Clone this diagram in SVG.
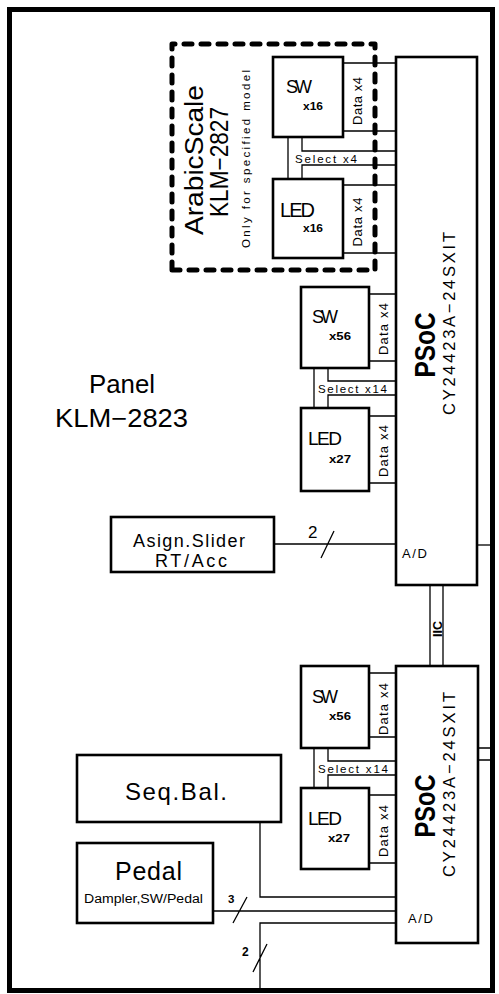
<svg xmlns="http://www.w3.org/2000/svg" width="499" height="994" viewBox="0 0 499 994">
<style>
.box{fill:#fff;stroke:#000;stroke-width:2.6}
.ln{fill:none;stroke:#000;stroke-width:1.3}
text{font-family:"Liberation Sans",Arial,sans-serif;fill:#000}
.m{text-anchor:middle}
</style>
<rect x="0" y="0" width="499" height="994" fill="#fff"/>
<rect id="frame" x="9.5" y="9.5" width="483" height="981" fill="none" stroke="#000" stroke-width="5"/>
<g id="arabic-scale-option">
<path d="M172,270 V44 H375 V270 Z" fill="none" stroke="#000" stroke-width="5" stroke-dasharray="8 9" stroke-linecap="round" stroke-linejoin="round"/>
<text class="m" transform="translate(203,160) rotate(-90)" font-size="25" textLength="150" lengthAdjust="spacingAndGlyphs">ArabicScale</text>
<text class="m" transform="translate(228,162) rotate(-90)" font-size="25" textLength="110" lengthAdjust="spacingAndGlyphs">KLM−2827</text>
<text class="m" transform="translate(250,159) rotate(-90)" font-size="11.5" textLength="178" lengthAdjust="spacing">Only for specified model</text>
</g>
<g id="connectors">
<path class="ln" d="M343,63 H396 M343,131 H396 M343,185 H396 M343,253 H396"/>
<path class="ln" d="M288,137 V179 M302,137 V151 H396 M302,179 V165 H396"/>
<path class="ln" d="M369,294 H396 M369,361 H396 M369,416 H396 M369,483 H396"/>
<path class="ln" d="M314,368 V408 M328,368 V381 H396 M328,408 V395 H396"/>
<path class="ln" d="M274,544 H396 M321,558 L334,531"/>
<path class="ln" d="M477,545 H492"/>
<path class="ln" d="M430,585 V666 M443,585 V666"/>
<path class="ln" d="M369,673 H396 M369,737 H396 M369,795 H396 M369,863 H396"/>
<path class="ln" d="M314,748 V788 M328,748 V761 H396 M328,788 V775 H396"/>
<path class="ln" d="M478,748 H492 M478,760 H492"/>
<path class="ln" d="M260,822 V897 H396"/>
<path class="ln" d="M213,911 H396 M233,923 L247,897"/>
<path class="ln" d="M396,923 H260 V988 M253,972 L267,944"/>
<text x="295" y="163" font-size="11.5" textLength="62" lengthAdjust="spacing">Select  x4</text>
<text x="318" y="393" font-size="11.5" textLength="69" lengthAdjust="spacing">Select  x14</text>
<text x="318" y="773" font-size="11.5" textLength="70" lengthAdjust="spacing">Select  x14</text>
<text class="m" transform="translate(362,101) rotate(-90)" font-size="13" textLength="48" lengthAdjust="spacing">Data  x4</text>
<text class="m" transform="translate(362,222) rotate(-90)" font-size="13" textLength="49" lengthAdjust="spacing">Data  x4</text>
<text class="m" transform="translate(388,329) rotate(-90)" font-size="13" textLength="52" lengthAdjust="spacing">Data  x4</text>
<text class="m" transform="translate(388,451) rotate(-90)" font-size="13" textLength="52" lengthAdjust="spacing">Data  x4</text>
<text class="m" transform="translate(388,709) rotate(-90)" font-size="13" textLength="52" lengthAdjust="spacing">Data  x4</text>
<text class="m" transform="translate(388,831) rotate(-90)" font-size="13" textLength="52" lengthAdjust="spacing">Data  x4</text>
<text class="m" transform="translate(442,629) rotate(-90)" font-size="12" font-weight="bold" textLength="16" lengthAdjust="spacingAndGlyphs">IIC</text>
<text x="308" y="538" font-size="17">2</text>
<text x="228" y="903" font-size="11.5" font-weight="bold">3</text>
<text x="242" y="956" font-size="12" font-weight="bold">2</text>
</g>
<g id="sw16">
<rect class="box" x="273" y="57" width="70" height="80"/>
<text x="286" y="93" font-size="18" textLength="26" lengthAdjust="spacing">SW</text>
<text x="303" y="110" font-size="11.5" font-weight="bold" textLength="20" lengthAdjust="spacingAndGlyphs">x16</text>
</g>
<g id="led16">
<rect class="box" x="273" y="179" width="70" height="79"/>
<text x="280" y="217" font-size="20" textLength="35" lengthAdjust="spacing">LED</text>
<text x="303" y="232" font-size="11.5" font-weight="bold" textLength="20" lengthAdjust="spacingAndGlyphs">x16</text>
</g>
<g id="psoc-top">
<rect class="box" x="396" y="57" width="81" height="528"/>
<text class="m" transform="translate(435,345) rotate(-90)" font-size="30" font-weight="bold" textLength="65" lengthAdjust="spacingAndGlyphs">PSoC</text>
<text class="m" transform="translate(455,323.5) rotate(-90)" font-size="16.5" textLength="183" lengthAdjust="spacing">CY24423A−24SXIT</text>
<text x="402" y="558" font-size="13" textLength="25" lengthAdjust="spacing">A/D</text>
</g>
<g id="sw56-top">
<rect class="box" x="301" y="287" width="68" height="81"/>
<text x="312" y="323" font-size="18" textLength="26" lengthAdjust="spacing">SW</text>
<text x="329" y="340" font-size="11.5" font-weight="bold" textLength="22" lengthAdjust="spacingAndGlyphs">x56</text>
</g>
<g id="led27-top">
<rect class="box" x="301" y="408" width="68" height="83"/>
<text x="308" y="445" font-size="19" textLength="34" lengthAdjust="spacing">LED</text>
<text x="329" y="463" font-size="11.5" font-weight="bold" textLength="22" lengthAdjust="spacingAndGlyphs">x27</text>
</g>
<g id="panel-label">
<text class="m" x="122" y="393" font-size="25" textLength="66" lengthAdjust="spacingAndGlyphs">Panel</text>
<text class="m" x="121.5" y="427" font-size="25" textLength="133" lengthAdjust="spacingAndGlyphs">KLM−2823</text>
</g>
<g id="slider">
<rect class="box" x="111" y="517" width="163" height="55"/>
<text x="133" y="547" font-size="18" textLength="112" lengthAdjust="spacing">Asign.Slider</text>
<text x="155" y="567" font-size="18" textLength="72" lengthAdjust="spacing">RT/Acc</text>
</g>
<g id="psoc-bottom">
<rect class="box" x="396" y="666" width="82" height="277"/>
<text class="m" transform="translate(435,806) rotate(-90)" font-size="30" font-weight="bold" textLength="63" lengthAdjust="spacingAndGlyphs">PSoC</text>
<text class="m" transform="translate(455,784.5) rotate(-90)" font-size="16.5" textLength="185" lengthAdjust="spacing">CY24423A−24SXIT</text>
<text x="408" y="923" font-size="13" textLength="25" lengthAdjust="spacing">A/D</text>
</g>
<g id="sw56-bottom">
<rect class="box" x="301" y="666" width="68" height="82"/>
<text x="312" y="703" font-size="18" textLength="26" lengthAdjust="spacing">SW</text>
<text x="329" y="720" font-size="11.5" font-weight="bold" textLength="22" lengthAdjust="spacingAndGlyphs">x56</text>
</g>
<g id="led27-bottom">
<rect class="box" x="301" y="788" width="68" height="81"/>
<text x="308" y="825" font-size="19" textLength="34" lengthAdjust="spacing">LED</text>
<text x="328" y="842" font-size="11.5" font-weight="bold" textLength="22" lengthAdjust="spacingAndGlyphs">x27</text>
</g>
<g id="seqbal">
<rect class="box" x="77" y="755" width="204" height="67"/>
<text x="125" y="800" font-size="24" textLength="102" lengthAdjust="spacing">Seq.Bal.</text>
</g>
<g id="pedal">
<rect class="box" x="77" y="843" width="136" height="80"/>
<text x="115" y="880" font-size="25" textLength="67" lengthAdjust="spacing">Pedal</text>
<text x="84" y="903" font-size="12" textLength="119" lengthAdjust="spacingAndGlyphs">Dampler,SW/Pedal</text>
</g>
</svg>
